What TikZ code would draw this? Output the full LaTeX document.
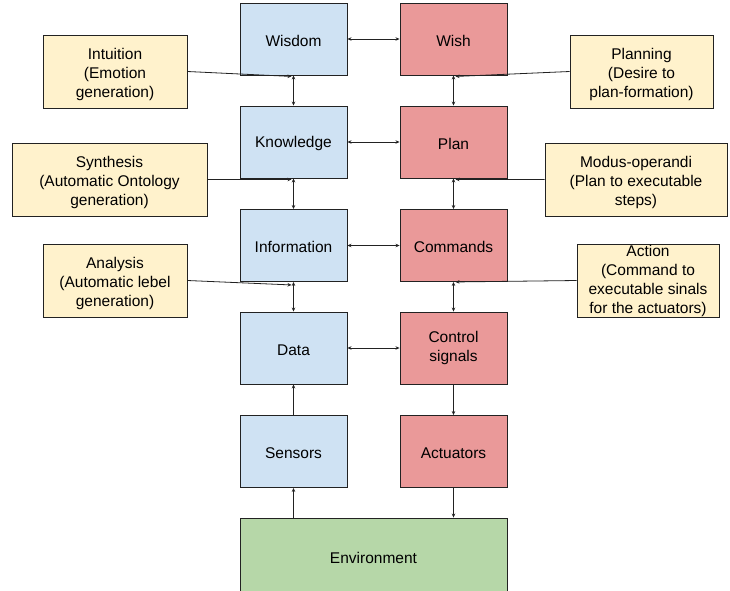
\documentclass[tikz,border=0pt]{standalone}
\usepackage{fontspec}
\setmainfont{Liberation Sans}
\usetikzlibrary{arrows.meta}
\definecolor{bluef}{HTML}{CFE2F3}
\definecolor{redf}{HTML}{EA9999}
\definecolor{yellowf}{HTML}{FFF2CC}
\definecolor{greenf}{HTML}{B6D7A8}
\definecolor{edge}{HTML}{222222}
\newcommand{\topstrut}{\rule{0pt}{16.5pt}}
\begin{document}
\begin{tikzpicture}[x=1pt,y=-1pt,
  box/.style={draw=edge, line width=0.9pt, minimum width=107pt, minimum height=72pt, inner sep=0pt, align=center, font=\fontsize{15.5}{19}\selectfont, execute at begin node={\rule{0pt}{14.5pt}}},
  bl/.style={box, fill=bluef},
  rd/.style={box, fill=redf},
  note/.style={draw=edge, line width=0.9pt, fill=yellowf, inner sep=0pt, minimum height=73pt, align=center, font=\fontsize{15.5}{19}\selectfont},
  conn/.style={draw=edge, line width=0.8pt},
  dbl/.style={conn, {Stealth[length=4pt,width=3.5pt]}-{Stealth[length=4pt,width=3.5pt]}},
  one/.style={conn, -{Stealth[length=4pt,width=3.5pt]}}
]
\clip (0,0) rectangle (730,590);
\fill[white] (0,0) rectangle (730,590);

% blue column
\node[bl] (wis) at (293.5,39) {Wisdom};
\node[bl] (kno) at (293.5,142) {Knowledge};
\node[bl] (inf) at (293.5,245.5) {Information};
\node[bl] (dat) at (293.5,348) {Data};
\node[bl] (sen) at (293.5,451.5) {Sensors};
% red column
\node[rd] (wsh) at (453.5,39) {Wish};
\node[rd] (pln) at (453.5,142) {Plan};
\node[rd] (cmd) at (453.5,245.5) {Commands};
\node[rd] (ctl) at (453.5,348) {Control\\signals};
\node[rd] (act) at (453.5,451.5) {Actuators};
% environment
\node[box, fill=greenf, minimum width=267pt, minimum height=76pt] (env) at (373.5,556) {Environment};

% notes
\node[note, minimum width=144pt] (intu) at (115,71.5) {\topstrut Intuition\\(Emotion\\generation)};
\node[note, minimum width=195pt] (syn) at (109.5,179.5) {\topstrut Synthesis\\(Automatic Ontology\\generation)};
\node[note, minimum width=144pt] (ana) at (115,280.5) {\topstrut Analysis\\(Automatic lebel\\generation)};
\node[note, minimum width=143pt] (plg) at (641.5,71.5) {\topstrut Planning\\(Desire to\\plan-formation)};
\node[note, minimum width=182pt] (mod) at (636,179.5) {\topstrut Modus-operandi\\(Plan to executable\\steps)};
\node[note, minimum width=142pt] (actn) at (648,280.5) {Action\\(Command to\\executable sinals\\for the actuators)};

% horizontal double arrows
\draw[dbl] (wis) -- (wsh);
\draw[dbl] (kno) -- (pln);
\draw[dbl] (inf) -- (cmd);
\draw[dbl] (dat) -- (ctl);

% vertical arrows
\draw[dbl] (wis) -- (kno);
\draw[dbl] (kno) -- (inf);
\draw[dbl] (inf) -- (dat);
\draw[one] (sen) -- (dat);
\draw[one] (env.north -| sen.south) -- (sen);
\draw[dbl] (wsh) -- (pln);
\draw[dbl] (pln) -- (cmd);
\draw[dbl] (cmd) -- (ctl);
\draw[one] (ctl) -- (act);
\draw[one] (act) -- (act.south |- env.north);

% note connectors
\coordinate (pi) at ([xshift=-2pt,yshift=-1pt]wis.south);
\coordinate (ps) at ([xshift=-2pt,yshift=-1pt]kno.south);
\coordinate (pa) at ([xshift=-2pt,yshift=-3pt]inf.south);
\coordinate (pp) at ([xshift=2pt,yshift=-1pt]wsh.south);
\coordinate (pm) at ([xshift=2pt,yshift=-1pt]pln.south);
\coordinate (pc) at ([xshift=2pt]cmd.south);
\draw[one] (intu.east) -- (pi);
\draw[one] (syn.east) -- (ps);
\draw[one] (ana.east) -- (pa);
\draw[one] (plg.west) -- (pp);
\draw[one] (mod.west) -- (pm);
\draw[one] (actn.west) -- (pc);
\end{tikzpicture}
\end{document}
